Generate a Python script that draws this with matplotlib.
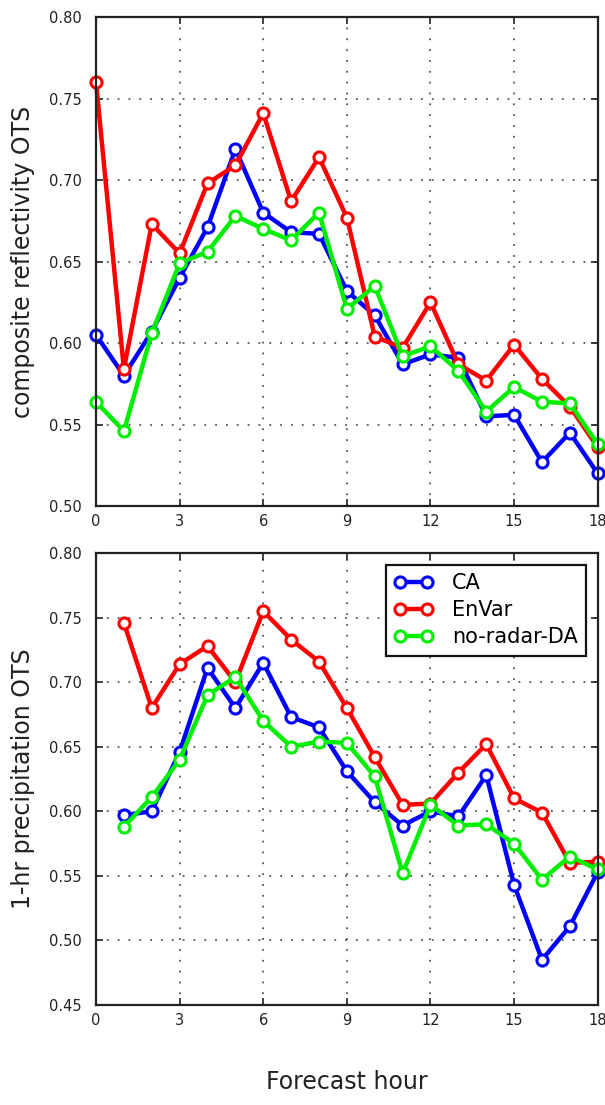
import matplotlib
matplotlib.use("Agg")
import matplotlib.pyplot as plt

plt.rcParams['font.family'] = ['DejaVu Sans']

hours_top = list(range(0, 19))
hours_bot = list(range(1, 19))

refl_ca = [0.605, 0.580, 0.607, 0.640, 0.671, 0.719, 0.680, 0.668, 0.667, 0.632,
           0.617, 0.587, 0.593, 0.591, 0.555, 0.556, 0.527, 0.545, 0.520]
refl_envar = [0.760, 0.584, 0.673, 0.655, 0.698, 0.709, 0.741, 0.687, 0.714, 0.677,
              0.604, 0.597, 0.625, 0.587, 0.577, 0.599, 0.578, 0.561, 0.536]
refl_norad = [0.564, 0.546, 0.606, 0.649, 0.656, 0.678, 0.670, 0.663, 0.680, 0.621,
              0.635, 0.592, 0.598, 0.583, 0.558, 0.573, 0.564, 0.563, 0.538]

prec_ca = [0.597, 0.600, 0.646, 0.711, 0.680, 0.715, 0.673, 0.665, 0.631,
           0.607, 0.589, 0.600, 0.596, 0.628, 0.543, 0.485, 0.511, 0.553]
prec_envar = [0.746, 0.680, 0.714, 0.728, 0.700, 0.755, 0.733, 0.716, 0.680,
              0.642, 0.605, 0.606, 0.630, 0.652, 0.610, 0.599, 0.560, 0.561]
prec_norad = [0.588, 0.611, 0.640, 0.690, 0.704, 0.670, 0.650, 0.654, 0.653,
              0.627, 0.552, 0.605, 0.589, 0.590, 0.575, 0.547, 0.565, 0.555]

series_names = ['CA', 'EnVar', 'no-radar-DA']
series_colors = ['#0000ff', '#ff0000', '#00ee00']

xticks = [0, 3, 6, 9, 12, 15, 18]
yticks_top = [0.50, 0.55, 0.60, 0.65, 0.70, 0.75, 0.80]
yticks_bot = [0.45, 0.50, 0.55, 0.60, 0.65, 0.70, 0.75, 0.80]

fig = plt.figure(figsize=(6.05, 11.05), dpi=100)
ax1 = fig.add_axes([0.1587, 0.542, 0.8293, 0.4426])
ax2 = fig.add_axes([0.1587, 0.0905, 0.8293, 0.409])

def style(ax, yticks, ylabel):
    ax.set_xlim(0, 18)
    ax.set_ylim(yticks[0], yticks[-1])
    ax.set_xticks(xticks)
    ax.set_yticks(yticks)
    ax.set_yticklabels(['%.2f' % v for v in yticks])
    ax.grid(True, color='#555555', linestyle=(0, (1, 5)), linewidth=1.3)
    ax.tick_params(direction='in', top=True, right=True, length=5, width=1.2,
                   labelsize=10.5, colors='#222222')
    ax.tick_params(axis='y', pad=10)
    ax.tick_params(axis='x', pad=6)
    for s in ax.spines.values():
        s.set_linewidth(1.6)
        s.set_color('#222222')
    ax.set_ylabel(ylabel, fontsize=17, color='#222222', labelpad=10)

kw = dict(linewidth=3.2, marker='o', markersize=8, markerfacecolor='white',
          markeredgewidth=2.2)

for vals, name, c in zip([refl_ca, refl_envar, refl_norad], series_names, series_colors):
    ax1.plot(hours_top, vals, color=c, markeredgecolor=c, label=name, clip_on=False, **kw)
for vals, name, c in zip([prec_ca, prec_envar, prec_norad], series_names, series_colors):
    ax2.plot(hours_bot, vals, color=c, markeredgecolor=c, label=name, clip_on=False, **kw)

style(ax1, yticks_top, 'composite reflectivity OTS')
style(ax2, yticks_bot, '1-hr precipitation OTS')
ax2.set_xlabel('Forecast hour', fontsize=17, color='#222222', labelpad=30)

leg = ax2.legend(loc='upper right', numpoints=2, fontsize=15, fancybox=False,
                 framealpha=1, edgecolor='#111111', handlelength=1.9,
                 handletextpad=0.9, borderaxespad=0.55, labelspacing=0.35,
                 borderpad=0.4)
leg.get_frame().set_linewidth(1.6)

fig.savefig('out.png', dpi=100)
